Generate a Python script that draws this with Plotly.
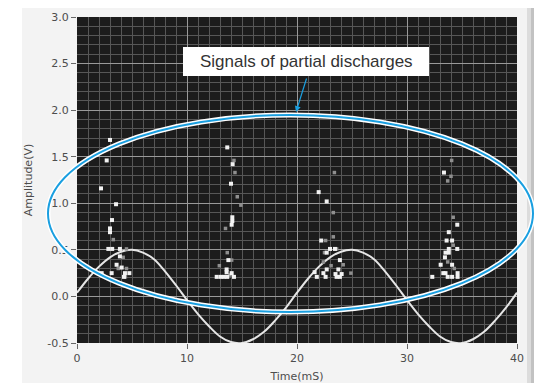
import plotly.graph_objects as go

# ---- data ----
time_ms = list(range(0, 41))
sine_v = [0.04, 0.19, 0.32, 0.42, 0.48, 0.50, 0.47, 0.40, 0.27, 0.12,
          -0.04, -0.19, -0.32, -0.43, -0.49, -0.50, -0.46, -0.38, -0.26, -0.12,
          0.04, 0.19, 0.32, 0.42, 0.48, 0.50, 0.47, 0.40, 0.27, 0.12,
          -0.04, -0.19, -0.32, -0.43, -0.49, -0.50, -0.46, -0.38, -0.26, -0.12,
          0.04]

pd_bright_x = [3.0, 2.7, 2.18, 3.55, 3.18, 3.0, 3.0, 2.85, 3.2, 3.9, 3.9, 3.6, 4.06, 3.15, 2.24, 4.36, 4.76, 4.27,
               13.66, 14.15, 14.0, 14.12, 14.12, 14.06, 13.76, 13.6, 13.6, 14.06, 12.7, 13.06, 13.36, 13.66, 14.27,
               21.97, 22.7, 22.2, 23.0, 23.45, 22.7, 22.7, 21.6, 22.4, 21.8, 22.6, 23.5, 23.9, 23.76, 24.06, 23.6, 23.9,
               33.36, 34.57, 33.8, 33.6, 34.1, 33.8, 34.57, 33.5, 33.8, 33.45, 33.06, 34.1, 32.3, 33.3, 33.5, 33.7, 34.1, 34.6, 34.6]
pd_bright_y = [1.68, 1.46, 1.16, 0.99, 0.82, 0.73, 0.69, 0.51, 0.51, 0.51, 0.43, 0.34, 0.31, 0.25, 0.25, 0.25, 0.25, 0.21,
               1.60, 1.42, 1.21, 0.85, 0.81, 0.77, 0.39, 0.29, 0.26, 0.25, 0.21, 0.21, 0.21, 0.21, 0.21,
               1.12, 1.02, 0.60, 0.51, 0.51, 0.47, 0.29, 0.26, 0.25, 0.21, 0.21, 0.24, 0.39, 0.29, 0.24, 0.21, 0.21,
               1.33, 0.77, 0.69, 0.60, 0.60, 0.51, 0.51, 0.47, 0.47, 0.42, 0.34, 0.34, 0.21, 0.25, 0.25, 0.21, 0.21, 0.21, 0.25]

pd_dim_x = [3.3, 4.5, 4.2, 3.75, 4.5, 4.4,
            14.27, 14.36, 14.57, 14.9, 13.5, 13.66, 14.06, 12.94, 13.9,
            23.4, 23.3, 23.3, 22.6, 22.5, 24.2, 24.9, 23.6, 22.4, 23.1,
            34.06, 34.0, 33.7, 34.2, 34.2, 34.3, 33.7]
pd_dim_y = [0.61, 0.51, 0.42, 0.30, 0.30, 0.21,
            1.46, 1.33, 1.07, 0.98, 0.73, 0.47, 0.39, 0.33, 0.23,
            1.33, 0.90, 0.64, 0.60, 0.47, 0.34, 0.25, 0.51, 0.37, 0.33,
            1.46, 1.29, 1.24, 0.85, 0.55, 0.30, 0.37]

x_ticks = [0, 10, 20, 30, 40]
y_ticks = [-0.5, 0.0, 0.5, 1.0, 1.5, 2.0, 2.5, 3.0]
y_tick_text = ["-0.5", "0.0", "0.5", "1.0", "1.5", "2.0", "2.5", "3.0"]

annotation_text = "Signals of partial discharges"
x_title = "Time(mS)"
y_title = "Amplitude(V)"

# ---- layout geometry (pixels); the page body adds an 8px offset ----
OFF = 8
W, H = 542 - OFF, 383 - OFF
L, T = 77 - OFF, 17 - OFF
R, B = 25, 40
PW, PH = W - L - R, H - T - B


def px(xpage):
    return (xpage - OFF - L) / PW


def py(ypage):
    return (H - B - (ypage - OFF)) / PH


BLUE = "#1a9fe0"

fig = go.Figure()
fig.add_trace(go.Scatter(x=time_ms, y=sine_v, mode="lines", line=dict(color="#e6e6e6", width=2, shape="spline"),
                         hoverinfo="skip", showlegend=False))
fig.add_trace(go.Scatter(x=pd_dim_x, y=pd_dim_y, mode="markers",
                         marker=dict(symbol="square", size=3.5, color="#8f8f8f", line=dict(width=0)),
                         showlegend=False))
fig.add_trace(go.Scatter(x=pd_bright_x, y=pd_bright_y, mode="markers",
                         marker=dict(symbol="square", size=4, color="#f2f2f2", line=dict(width=0)),
                         showlegend=False))

shapes = [
    # white strip at the left
    dict(type="rect", xref="paper", yref="paper", x0=px(OFF), x1=px(22), y0=py(383), y1=py(OFF),
         fillcolor="white", line=dict(width=0), layer="below"),
    # scrollbar-like strip at the right
    dict(type="rect", xref="paper", yref="paper", x0=px(527), x1=px(531), y0=py(383), y1=py(OFF),
         fillcolor="#dcdcdc", line=dict(width=0), layer="below"),
    dict(type="rect", xref="paper", yref="paper", x0=px(531), x1=px(536), y0=py(383), y1=py(OFF),
         fillcolor="#c2c2c2", line=dict(width=0), layer="below"),
    dict(type="rect", xref="paper", yref="paper", x0=px(536), x1=px(542), y0=py(383), y1=py(OFF),
         fillcolor="#a8a8a8", line=dict(width=0), layer="below"),
    # ellipse (white halo + blue line)
    dict(type="circle", xref="paper", yref="paper", x0=px(48), x1=px(533), y0=py(312), y1=py(115),
         line=dict(color="white", width=5), layer="above"),
    dict(type="circle", xref="paper", yref="paper", x0=px(48), x1=px(533), y0=py(312), y1=py(115),
         line=dict(color=BLUE, width=2), layer="above"),
    # annotation box
    dict(type="rect", xref="paper", yref="paper", x0=px(183), x1=px(429), y0=py(76), y1=py(47),
         fillcolor="white", line=dict(width=0), layer="above"),
]

annotations = [
    dict(text=annotation_text, xref="paper", yref="paper", x=px(306), y=py(61.5),
         xanchor="center", yanchor="middle", showarrow=False,
         font=dict(family="Liberation Sans, Arial", size=17, color="#333333")),
    dict(text="", xref="paper", yref="paper", x=px(296), y=py(112),
         ax=11, ay=-35, showarrow=True, arrowhead=2, arrowsize=1, arrowwidth=1.2,
         arrowcolor=BLUE, standoff=0),
]

fig.update_layout(
    width=W, height=H,
    margin=dict(l=L, r=R, t=T, b=B, pad=0, autoexpand=False),
    paper_bgcolor="#f3f3f3",
    plot_bgcolor="#1c1c1c",
    shapes=shapes,
    annotations=annotations,
    font=dict(family="DejaVu Sans", size=11, color="#4d4d4d"),
    xaxis=dict(range=[0, 40], tickvals=x_ticks, ticks="outside", ticklen=5, tickcolor="#666666",
               showgrid=True, gridcolor="#9a9a9a", gridwidth=1, zeroline=False, showline=False,
               minor=dict(dtick=1, tick0=0, showgrid=True, gridcolor="#575757", gridwidth=1),
               title=dict(text=x_title, standoff=11, font=dict(size=11, color="#4d4d4d")),
               automargin=False, fixedrange=True),
    yaxis=dict(range=[-0.5, 3.0], tickvals=y_ticks, ticktext=y_tick_text, ticks="outside", ticklen=5,
               tickcolor="#666666",
               showgrid=True, gridcolor="#9a9a9a", gridwidth=1, zeroline=False, showline=False,
               minor=dict(dtick=0.1, tick0=0, showgrid=True, gridcolor="#575757", gridwidth=1),
               title=dict(text=y_title, standoff=12, font=dict(size=11, color="#4d4d4d")),
               automargin=False, fixedrange=True),
)

fig.write_html("out.html")
